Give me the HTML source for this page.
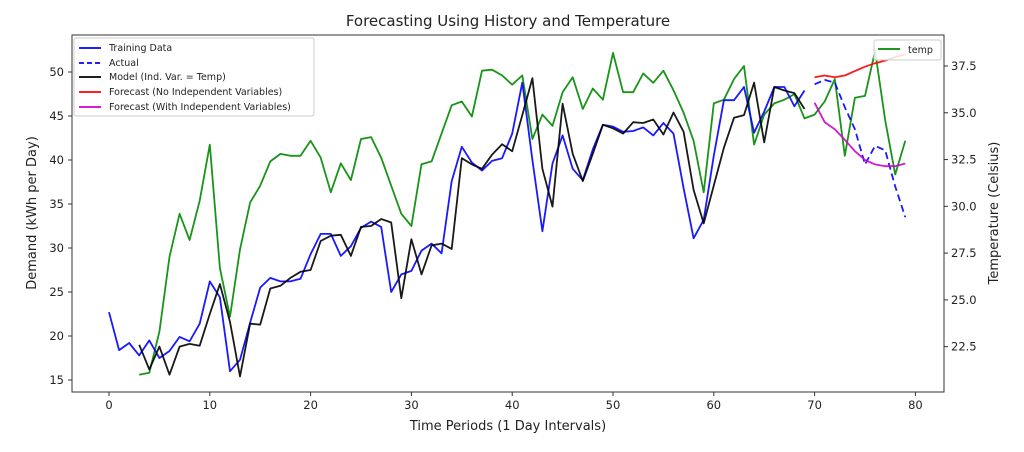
<!DOCTYPE html>
<html><head><meta charset="utf-8"><style>
body{margin:0;background:#fff;font-family:"Liberation Sans","DejaVu Sans",sans-serif}
svg text{font-family:"DejaVu Sans","Liberation Sans",sans-serif;fill:#222}
</style></head><body>
<svg id="c" width="1024" height="447" viewBox="0 0 1024 447">
<rect x="0" y="0" width="1024" height="447" fill="#fff"/>
<text x="508" y="26" font-size="15" text-anchor="middle">Forecasting Using History and Temperature</text>
<g id="grid"></g>
<g id="series"></g>
<rect x="72" y="35" width="872" height="357" fill="none" stroke="#333" stroke-width="1"/>
<text x="508" y="430" font-size="13" text-anchor="middle">Time Periods (1 Day Intervals)</text>
<text transform="translate(36,213) rotate(-90)" font-size="13" text-anchor="middle">Demand (kWh per Day)</text>
<text transform="translate(998,213) rotate(-90)" font-size="13" text-anchor="middle">Temperature (Celsius)</text>
<g>
<rect x="74" y="38" width="240" height="78" fill="#fff" fill-opacity="0.85" stroke="#ccc" rx="2"/>
<line x1="79" y1="48" x2="101" y2="48" stroke="#00f" stroke-width="1.8"/><text x="109" y="51" font-size="9.5">Training Data</text>
<line x1="79" y1="63" x2="101" y2="63" stroke="#00f" stroke-width="1.8" stroke-dasharray="5,3"/><text x="109" y="66" font-size="9.5">Actual</text>
<line x1="79" y1="77" x2="101" y2="77" stroke="#000" stroke-width="1.8"/><text x="109" y="80" font-size="9.5">Model (Ind. Var. = Temp)</text>
<line x1="79" y1="92" x2="101" y2="92" stroke="#f00" stroke-width="1.8"/><text x="109" y="95" font-size="9.5">Forecast (No Independent Variables)</text>
<line x1="79" y1="107" x2="101" y2="107" stroke="#c0c" stroke-width="1.8"/><text x="109" y="110" font-size="9.5">Forecast (With Independent Variables)</text>
</g>
<g>
<rect x="874" y="40" width="67" height="20" fill="#fff" fill-opacity="0.85" stroke="#ccc" rx="2"/>
<line x1="878" y1="49" x2="900" y2="49" stroke="#080" stroke-width="1.8"/><text x="908" y="53" font-size="9.5">temp</text>
</g>
</svg>
<script>
const xTicks=[0,10,20,30,40,50,60,70,80];
const yTicks=[15,20,25,30,35,40,45,50];
const y2Ticks=[22.5,25.0,27.5,30.0,32.5,35.0,37.5];
const training=[22.7,18.4,19.2,17.8,19.5,17.5,18.3,19.9,19.4,21.4,26.2,24.4,16.0,17.3,21.5,25.5,26.6,26.2,26.2,26.5,29.3,31.6,31.6,29.1,30.2,32.3,33.0,32.4,25.0,27.0,27.4,29.7,30.5,29.4,37.6,41.5,39.7,38.8,39.9,40.2,43.0,48.8,40.0,31.9,39.6,42.8,39.0,37.7,41.2,44.0,43.8,43.2,43.3,43.7,42.8,44.2,43.0,36.8,31.1,33.2,40.5,46.8,46.8,48.3,43.1,45.5,48.3,48.3,46.1,47.9];
const modelStart=3;
const model=[19.0,16.2,18.8,15.6,18.8,19.1,18.9,22.5,25.9,21.6,15.4,21.4,21.3,25.4,25.7,26.6,27.3,27.5,30.8,31.4,31.5,29.1,32.4,32.5,33.3,32.9,24.3,31.0,27.0,30.3,30.5,29.9,40.2,39.5,39.0,40.6,41.8,41.0,45.1,49.3,39.0,34.7,46.4,40.7,37.6,40.7,44.0,43.6,43.0,44.3,44.2,44.6,42.9,45.4,43.2,36.6,32.8,37.1,41.4,44.8,45.1,48.8,42.0,48.3,47.9,47.6,45.8];
const fcStart=70;
const actual=[48.6,49.1,48.8,46.0,43.5,39.5,41.6,41.1,37.0,33.5];
const fcNoVar=[49.4,49.6,49.4,49.6,50.1,50.6,51.0,51.3,51.7,52.0];
const fcWithVar=[46.5,44.3,43.5,42.3,41.0,40.0,39.5,39.3,39.3,39.6];
const tempStart=3;
const temp=[21.0,21.1,23.3,27.3,29.6,28.2,30.3,33.3,26.7,24.1,27.7,30.2,31.1,32.4,32.8,32.7,32.7,33.5,32.6,30.75,32.3,31.4,33.6,33.7,32.6,31.1,29.6,28.95,32.25,32.4,33.9,35.4,35.6,34.8,37.25,37.3,37.0,36.5,37.0,33.6,34.9,34.3,36.1,36.9,35.2,36.3,35.7,38.2,36.1,36.1,37.1,36.6,37.25,36.2,35.0,33.5,30.75,35.5,35.7,36.8,37.5,33.3,34.9,35.5,35.7,36.0,34.7,34.9,35.6,36.8,32.7,35.8,35.9,38.3,34.6,31.7,33.5];

const X=v=>109+v*10.08;
const Y=v=>380-(v-15)*8.8;
const Y2=v=>66+(37.5-v)*18.71;
const NS='http://www.w3.org/2000/svg';
const grid=document.getElementById('grid'), ser=document.getElementById('series');
function mk(tag,attrs,parent){const e=document.createElementNS(NS,tag);for(const k in attrs)e.setAttribute(k,attrs[k]);parent.appendChild(e);return e;}
xTicks.forEach(t=>{
  const l=mk('line',{x1:X(t),x2:X(t),y1:392,y2:396,stroke:'#333'},grid);
  
  
  const tx=mk('text',{x:X(t),y:409,'font-size':11.5,'text-anchor':'middle'},grid);tx.textContent=t;
  
  
});
yTicks.forEach(t=>{
  const l=mk('line',{x1:68,x2:72,y1:Y(t),y2:Y(t),stroke:'#333'},grid);
  
  
  const tx=mk('text',{x:64,y:Y(t)+4,'font-size':11.5,'text-anchor':'end'},grid);tx.textContent=t;
  
  
});
y2Ticks.forEach(t=>{
  const l=mk('line',{x1:944,x2:948,y1:Y2(t),y2:Y2(t),stroke:'#333'},grid);
  
  
  const tx=mk('text',{x:951,y:Y2(t)+4,'font-size':11.5},grid);tx.textContent=t.toFixed(1);
  
  
});
function line(arr,start,yf,color,name,dash){
  const pts=arr.map((v,i)=>X(start+i).toFixed(1)+','+yf(v).toFixed(1)).join(' ');
  const p=mk('polyline',{points:pts,fill:'none',stroke:color,'stroke-width':1.8,'stroke-linejoin':'round','stroke-opacity':0.9},ser);
  if(dash)p.setAttribute('stroke-dasharray',dash);
  
  
}
line(temp,tempStart,Y2,'#080','temp-line');
line(training,0,Y,'#00f','training-line');
line(model,modelStart,Y,'#000','model-line');
line(actual,fcStart,Y,'#00f','actual-line','7,4');
line(fcNoVar,fcStart,Y,'#f00','forecast-no-var-line');
line(fcWithVar,fcStart,Y,'#c0c','forecast-with-var-line');
</script>
</body></html>
